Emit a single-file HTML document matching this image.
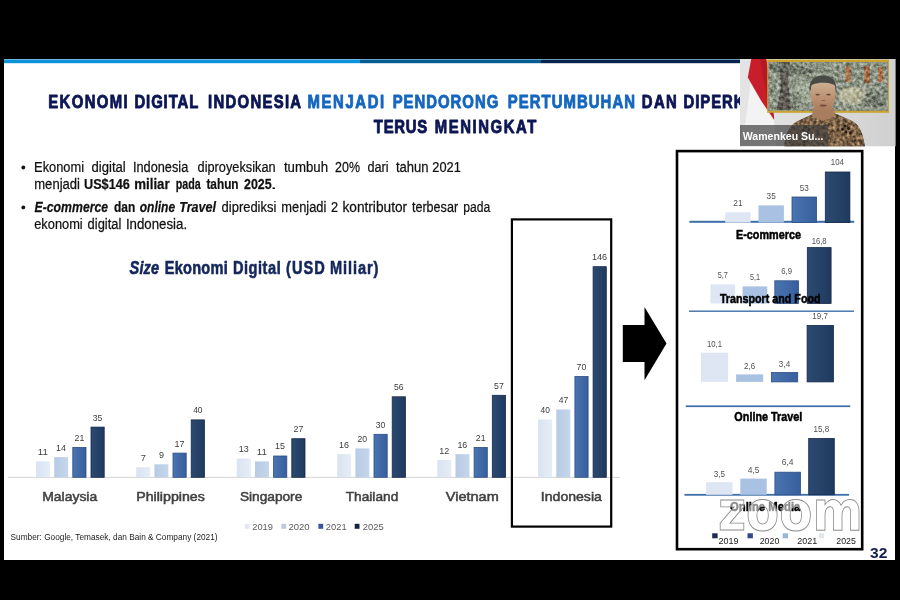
<!DOCTYPE html>
<html lang="id"><head><meta charset="utf-8"><title>Ekonomi Digital Indonesia</title>
<style>
html,body{margin:0;padding:0;background:#000;}
body{width:900px;height:600px;overflow:hidden;}
svg{display:block;font-family:"Liberation Sans",sans-serif;filter:blur(0.3px);}
</style></head><body>
<svg width="900" height="600" viewBox="0 0 900 600">
<defs>
<linearGradient id="g19" x1="0" x2="1" y1="0" y2="0"><stop offset="0" stop-color="#d9e3f1"/><stop offset="1" stop-color="#e6edf7"/></linearGradient>
<linearGradient id="g20" x1="0" x2="1" y1="0" y2="0"><stop offset="0" stop-color="#b7cbe5"/><stop offset="1" stop-color="#c6d6ea"/></linearGradient>
<linearGradient id="g21" x1="0" x2="1" y1="0" y2="0"><stop offset="0" stop-color="#4a74b2"/><stop offset="1" stop-color="#375f9b"/></linearGradient>
<linearGradient id="g25" x1="0" x2="1" y1="0" y2="0"><stop offset="0" stop-color="#2c4a72"/><stop offset="1" stop-color="#1f3a5e"/></linearGradient>
</defs>
<rect x="0" y="0" width="900" height="600" fill="#000"/>
<rect x="4" y="59" width="891" height="501" fill="#fff"/>

<rect x="4" y="59" width="356" height="4.2" fill="#0b93dc"/>
<rect x="360" y="59" width="181" height="4.2" fill="#045d92"/>
<rect x="541" y="59" width="199" height="4.2" fill="#06244c"/>
<rect x="4" y="59" width="736" height="1" fill="#8fc3d8" opacity="0.75"/>
<text transform="translate(48.29,108.10) scale(0.8000,1)" font-size="18.6" font-weight="700" letter-spacing="1.742" fill="#0c1654" stroke="#0c1654" stroke-width="0.9" stroke-linejoin="round">EKONOMI</text>
<text transform="translate(134.49,108.10) scale(0.8000,1)" font-size="18.6" font-weight="700" letter-spacing="1.123" fill="#0c1654" stroke="#0c1654" stroke-width="0.9" stroke-linejoin="round">DIGITAL</text>
<text transform="translate(208.09,108.10) scale(0.8000,1)" font-size="18.6" font-weight="700" letter-spacing="1.619" fill="#0c1654" stroke="#0c1654" stroke-width="0.9" stroke-linejoin="round">INDONESIA</text>
<text transform="translate(307.49,108.10) scale(0.8000,1)" font-size="18.6" font-weight="700" letter-spacing="2.032" fill="#1566bf" stroke="#1566bf" stroke-width="0.9" stroke-linejoin="round">MENJADI</text>
<text transform="translate(392.69,108.10) scale(0.8000,1)" font-size="18.6" font-weight="700" letter-spacing="1.266" fill="#1566bf" stroke="#1566bf" stroke-width="0.9" stroke-linejoin="round">PENDORONG</text>
<text transform="translate(507.79,108.10) scale(0.8000,1)" font-size="18.6" font-weight="700" letter-spacing="1.338" fill="#1566bf" stroke="#1566bf" stroke-width="0.9" stroke-linejoin="round">PERTUMBUHAN</text>
<text transform="translate(641.79,108.10) scale(0.8000,1)" font-size="18.6" font-weight="700" letter-spacing="1.750" fill="#0c1654" stroke="#0c1654" stroke-width="0.9" stroke-linejoin="round">DAN</text>
<text transform="translate(683.59,108.10) scale(0.8000,1)" font-size="18.6" font-weight="700" letter-spacing="1.189" fill="#0c1654" stroke="#0c1654" stroke-width="0.9" stroke-linejoin="round">DIPERKIRAKAN</text>
<text transform="translate(815.49,108.10) scale(0.8000,1)" font-size="18.6" font-weight="700" letter-spacing="1.428" fill="#0c1654" stroke="#0c1654" stroke-width="0.9" stroke-linejoin="round">AKAN</text>
<text transform="translate(373.81,133.00) scale(0.8000,1)" font-size="18.6" font-weight="700" letter-spacing="0.931" fill="#0c1654" stroke="#0c1654" stroke-width="0.9" stroke-linejoin="round">TERUS</text>
<text transform="translate(434.79,133.00) scale(0.8000,1)" font-size="18.6" font-weight="700" letter-spacing="1.971" fill="#0c1654" stroke="#0c1654" stroke-width="0.9" stroke-linejoin="round">MENINGKAT</text>
<circle cx="23.3" cy="167.5" r="1.9" fill="#111"/>
<circle cx="23.3" cy="207.4" r="1.9" fill="#111"/>
<text transform="translate(34.07,172.00) scale(0.8286,1)" font-size="15.5" fill="#111" stroke="#111" stroke-width="0.25" stroke-linejoin="round">Ekonomi</text>
<text transform="translate(91.58,172.00) scale(0.8448,1)" font-size="15.5" fill="#111" stroke="#111" stroke-width="0.25" stroke-linejoin="round">digital</text>
<text transform="translate(132.95,172.00) scale(0.8237,1)" font-size="15.5" fill="#111" stroke="#111" stroke-width="0.25" stroke-linejoin="round">Indonesia</text>
<text transform="translate(197.59,172.00) scale(0.8244,1)" font-size="15.5" fill="#111" stroke="#111" stroke-width="0.25" stroke-linejoin="round">diproyeksikan</text>
<text transform="translate(283.90,172.00) scale(0.8543,1)" font-size="15.5" fill="#111" stroke="#111" stroke-width="0.25" stroke-linejoin="round">tumbuh</text>
<text transform="translate(335.08,172.00) scale(0.8018,1)" font-size="15.5" fill="#111" stroke="#111" stroke-width="0.25" stroke-linejoin="round">20%</text>
<text transform="translate(367.39,172.00) scale(0.8189,1)" font-size="15.5" fill="#111" stroke="#111" stroke-width="0.25" stroke-linejoin="round">dari</text>
<text transform="translate(395.90,172.00) scale(0.8424,1)" font-size="15.5" fill="#111" stroke="#111" stroke-width="0.25" stroke-linejoin="round">tahun</text>
<text transform="translate(432.36,172.00) scale(0.8269,1)" font-size="15.5" fill="#111" stroke="#111" stroke-width="0.25" stroke-linejoin="round">2021</text>
<text transform="translate(34.25,189.20) scale(0.8423,1)" font-size="15.5" fill="#111" stroke="#111" stroke-width="0.25" stroke-linejoin="round">menjadi</text>
<text transform="translate(84.04,189.20) scale(0.8174,1)" font-size="15.5" font-weight="700" fill="#111" stroke="#111" stroke-width="0.25" stroke-linejoin="round">US$146</text>
<text transform="translate(134.24,189.20) scale(0.8569,1)" font-size="15.5" font-weight="700" fill="#111" stroke="#111" stroke-width="0.25" stroke-linejoin="round">miliar</text>
<text transform="translate(175.80,189.20) scale(0.6904,1)" font-size="15.5" font-weight="700" fill="#111" stroke="#111" stroke-width="0.25" stroke-linejoin="round">pada</text>
<text transform="translate(206.38,189.20) scale(0.7645,1)" font-size="15.5" font-weight="700" fill="#111" stroke="#111" stroke-width="0.25" stroke-linejoin="round">tahun</text>
<text transform="translate(244.07,189.20) scale(0.8016,1)" font-size="15.5" font-weight="700" fill="#111" stroke="#111" stroke-width="0.25" stroke-linejoin="round">2025</text>
<text transform="translate(270.33,189.20) scale(1.6299,1)" font-size="15.5" fill="#111">.</text>
<text transform="translate(34.45,212.00) scale(0.7930,1)" font-size="15.5" font-weight="700" font-style="italic" fill="#111" stroke="#111" stroke-width="0.25" stroke-linejoin="round">E-commerce</text>
<text transform="translate(114.02,212.00) scale(0.7703,1)" font-size="15.5" font-weight="700" fill="#111" stroke="#111" stroke-width="0.25" stroke-linejoin="round">dan</text>
<text transform="translate(139.74,212.00) scale(0.7769,1)" font-size="15.5" font-weight="700" font-style="italic" fill="#111" stroke="#111" stroke-width="0.25" stroke-linejoin="round">online</text>
<text transform="translate(179.22,212.00) scale(0.8123,1)" font-size="15.5" font-weight="700" font-style="italic" fill="#111" stroke="#111" stroke-width="0.25" stroke-linejoin="round">Travel</text>
<text transform="translate(221.58,212.00) scale(0.8372,1)" font-size="15.5" fill="#111" stroke="#111" stroke-width="0.25" stroke-linejoin="round">diprediksi</text>
<text transform="translate(281.26,212.00) scale(0.8309,1)" font-size="15.5" fill="#111" stroke="#111" stroke-width="0.25" stroke-linejoin="round">menjadi</text>
<text transform="translate(331.06,212.00) scale(0.8224,1)" font-size="15.5" fill="#111" stroke="#111" stroke-width="0.25" stroke-linejoin="round">2</text>
<text transform="translate(342.41,212.00) scale(0.8843,1)" font-size="15.5" fill="#111" stroke="#111" stroke-width="0.25" stroke-linejoin="round">kontributor</text>
<text transform="translate(411.91,212.00) scale(0.8129,1)" font-size="15.5" fill="#111" stroke="#111" stroke-width="0.25" stroke-linejoin="round">terbesar</text>
<text transform="translate(463.31,212.00) scale(0.7826,1)" font-size="15.5" fill="#111" stroke="#111" stroke-width="0.25" stroke-linejoin="round">pada</text>
<text transform="translate(34.19,229.40) scale(0.8286,1)" font-size="15.5" fill="#111" stroke="#111" stroke-width="0.25" stroke-linejoin="round">ekonomi</text>
<text transform="translate(87.58,229.40) scale(0.8345,1)" font-size="15.5" fill="#111" stroke="#111" stroke-width="0.25" stroke-linejoin="round">digital</text>
<text transform="translate(125.91,229.40) scale(0.8563,1)" font-size="15.5" fill="#111" stroke="#111" stroke-width="0.25" stroke-linejoin="round">Indonesia.</text>
<text transform="translate(129.62,274.00) scale(0.8000,1)" font-size="18.2" font-weight="700" font-style="italic" letter-spacing="0.118" fill="#14275c" stroke="#14275c" stroke-width="0.6" stroke-linejoin="round">Size</text>
<text transform="translate(164.69,274.00) scale(0.8000,1)" font-size="18.2" font-weight="700" letter-spacing="0.327" fill="#14275c" stroke="#14275c" stroke-width="0.6" stroke-linejoin="round">Ekonomi</text>
<text transform="translate(232.89,274.00) scale(0.8000,1)" font-size="18.2" font-weight="700" letter-spacing="0.694" fill="#14275c" stroke="#14275c" stroke-width="0.6" stroke-linejoin="round">Digital</text>
<text transform="translate(286.11,274.00) scale(0.8000,1)" font-size="18.2" font-weight="700" letter-spacing="1.252" fill="#14275c" stroke="#14275c" stroke-width="0.6" stroke-linejoin="round">(USD</text>
<text transform="translate(329.99,274.00) scale(0.8000,1)" font-size="18.2" font-weight="700" letter-spacing="1.170" fill="#14275c" stroke="#14275c" stroke-width="0.6" stroke-linejoin="round">Miliar)</text>
<rect x="8" y="476.90000000000003" width="612" height="1" fill="#d4d4d4"/>
<rect x="36.0" y="461.4" width="14.0" height="15.9" fill="url(#g19)"/>
<text transform="translate(37.82,455.21) scale(1.0348,1)" font-size="9.4" fill="#3c3c3c">11</text>
<rect x="54.2" y="457.1" width="14.0" height="20.2" fill="url(#g20)"/>
<text transform="translate(56.09,450.87) scale(0.9421,1)" font-size="9.4" fill="#3c3c3c">14</text>
<rect x="72.8" y="447.4" width="13.2" height="29.9" fill="url(#g21)" stroke="#2d4f86" stroke-width="0.8"/>
<text transform="translate(74.51,440.75) scale(0.9328,1)" font-size="9.4" fill="#3c3c3c">21</text>
<rect x="91.0" y="427.1" width="13.2" height="50.2" fill="url(#g25)" stroke="#16294a" stroke-width="0.8"/>
<text transform="translate(92.80,420.53) scale(0.9192,1)" font-size="9.4" fill="#3c3c3c">35</text>
<text transform="translate(42.18,500.50) scale(1.0915,1)" font-size="12.8" fill="#404040" stroke="#404040" stroke-width="0.5">Malaysia</text>
<rect x="136.2" y="467.2" width="14.0" height="10.1" fill="url(#g19)"/>
<text transform="translate(140.64,460.99) scale(0.9820,1)" font-size="9.4" fill="#3c3c3c">7</text>
<rect x="154.4" y="464.3" width="14.0" height="13.0" fill="url(#g20)"/>
<text transform="translate(158.89,458.10) scale(0.9609,1)" font-size="9.4" fill="#3c3c3c">9</text>
<rect x="173.0" y="453.1" width="13.2" height="24.2" fill="url(#g21)" stroke="#2d4f86" stroke-width="0.8"/>
<text transform="translate(174.47,446.54) scale(0.9612,1)" font-size="9.4" fill="#3c3c3c">17</text>
<rect x="191.2" y="419.9" width="13.2" height="57.4" fill="url(#g25)" stroke="#16294a" stroke-width="0.8"/>
<text transform="translate(193.18,413.30) scale(0.8974,1)" font-size="9.4" fill="#3c3c3c">40</text>
<text transform="translate(136.16,500.50) scale(1.1106,1)" font-size="12.8" fill="#404040" stroke="#404040" stroke-width="0.5">Philippines</text>
<rect x="236.8" y="458.5" width="14.0" height="18.8" fill="url(#g19)"/>
<text transform="translate(238.68,452.31) scale(0.9516,1)" font-size="9.4" fill="#3c3c3c">13</text>
<rect x="255.0" y="461.4" width="14.0" height="15.9" fill="url(#g20)"/>
<text transform="translate(256.82,455.21) scale(1.0348,1)" font-size="9.4" fill="#3c3c3c">11</text>
<rect x="273.6" y="456.0" width="13.2" height="21.3" fill="url(#g21)" stroke="#2d4f86" stroke-width="0.8"/>
<text transform="translate(275.08,449.43) scale(0.9516,1)" font-size="9.4" fill="#3c3c3c">15</text>
<rect x="291.8" y="438.7" width="13.2" height="38.6" fill="url(#g25)" stroke="#16294a" stroke-width="0.8"/>
<text transform="translate(293.51,432.09) scale(0.9374,1)" font-size="9.4" fill="#3c3c3c">27</text>
<text transform="translate(239.88,500.50) scale(1.0696,1)" font-size="12.8" fill="#404040" stroke="#404040" stroke-width="0.5">Singapore</text>
<rect x="337.2" y="454.2" width="14.0" height="23.1" fill="url(#g19)"/>
<text transform="translate(339.08,447.98) scale(0.9516,1)" font-size="9.4" fill="#3c3c3c">16</text>
<rect x="355.4" y="448.4" width="14.0" height="28.9" fill="url(#g20)"/>
<text transform="translate(357.52,442.20) scale(0.9237,1)" font-size="9.4" fill="#3c3c3c">20</text>
<rect x="374.0" y="434.3" width="13.2" height="43.0" fill="url(#g21)" stroke="#2d4f86" stroke-width="0.8"/>
<text transform="translate(375.81,427.75) scale(0.9148,1)" font-size="9.4" fill="#3c3c3c">30</text>
<rect x="392.2" y="396.8" width="13.2" height="80.5" fill="url(#g25)" stroke="#16294a" stroke-width="0.8"/>
<text transform="translate(394.00,390.18) scale(0.9192,1)" font-size="9.4" fill="#3c3c3c">56</text>
<text transform="translate(345.73,500.50) scale(1.0708,1)" font-size="12.8" fill="#404040" stroke="#404040" stroke-width="0.5">Thailand</text>
<rect x="437.3" y="460.0" width="14.0" height="17.3" fill="url(#g19)"/>
<text transform="translate(439.17,453.76) scale(0.9612,1)" font-size="9.4" fill="#3c3c3c">12</text>
<rect x="455.5" y="454.2" width="14.0" height="23.1" fill="url(#g20)"/>
<text transform="translate(457.38,447.98) scale(0.9516,1)" font-size="9.4" fill="#3c3c3c">16</text>
<rect x="474.1" y="447.4" width="13.2" height="29.9" fill="url(#g21)" stroke="#2d4f86" stroke-width="0.8"/>
<text transform="translate(475.81,440.75) scale(0.9328,1)" font-size="9.4" fill="#3c3c3c">21</text>
<rect x="492.3" y="395.3" width="13.2" height="82.0" fill="url(#g25)" stroke="#16294a" stroke-width="0.8"/>
<text transform="translate(494.10,388.74) scale(0.9282,1)" font-size="9.4" fill="#3c3c3c">57</text>
<text transform="translate(445.83,500.50) scale(1.1332,1)" font-size="12.8" fill="#404040" stroke="#404040" stroke-width="0.5">Vietnam</text>
<rect x="538.1" y="419.5" width="14.0" height="57.8" fill="url(#g19)"/>
<text transform="translate(540.48,413.30) scale(0.8974,1)" font-size="9.4" fill="#3c3c3c">40</text>
<rect x="556.3" y="409.4" width="14.0" height="67.9" fill="url(#g20)"/>
<text transform="translate(558.68,403.19) scale(0.9104,1)" font-size="9.4" fill="#3c3c3c">47</text>
<rect x="574.9" y="376.5" width="13.2" height="100.8" fill="url(#g21)" stroke="#2d4f86" stroke-width="0.8"/>
<text transform="translate(576.62,369.95) scale(0.9237,1)" font-size="9.4" fill="#3c3c3c">70</text>
<rect x="593.1" y="266.7" width="13.2" height="210.6" fill="url(#g25)" stroke="#16294a" stroke-width="0.8"/>
<text transform="translate(591.91,260.13) scale(0.9746,1)" font-size="9.4" fill="#3c3c3c">146</text>
<text transform="translate(540.83,500.50) scale(1.1006,1)" font-size="12.8" fill="#404040" stroke="#404040" stroke-width="0.5">Indonesia</text>
<rect x="511.9" y="219.4" width="99.3" height="307.2" fill="none" stroke="#000" stroke-width="2.2"/>
<polygon points="622.8,324.9 644.5,324.9 644.5,306.9 666.5,343.4 644.5,380.3 644.5,361.9 622.8,361.9" fill="#000"/>
<rect x="244.7" y="523.8" width="4.8" height="5" fill="#e3e8f1"/>
<text transform="translate(252.24,529.80) scale(1.0563,1)" font-size="8.8" fill="#5a5a5a">2019</text>
<rect x="281.4" y="523.8" width="4.8" height="5" fill="#bfc9da"/>
<text transform="translate(288.42,529.80) scale(1.0833,1)" font-size="8.8" fill="#5a5a5a">2020</text>
<rect x="318.4" y="523.8" width="4.8" height="5" fill="#3b539c"/>
<text transform="translate(325.83,529.80) scale(1.0617,1)" font-size="8.8" fill="#5a5a5a">2021</text>
<rect x="354.7" y="523.8" width="4.8" height="5" fill="#14243c"/>
<text transform="translate(362.73,529.80) scale(1.0752,1)" font-size="8.8" fill="#5a5a5a">2025</text>
<text transform="translate(10.53,540.10) scale(0.8545,1)" font-size="9.7" fill="#222">Sumber: Google, Temasek, dan Bain &amp; Company (2021)</text>
<text transform="translate(870.01,557.60) scale(1.1303,1)" font-size="13.8" font-weight="700" fill="#12224e">32</text>
<rect x="689.4" y="220.8" width="164.8" height="2" fill="#3d6ea9"/>
<rect x="725.2" y="212.3" width="25.4" height="10.3" fill="#dee6f4"/>
<text transform="translate(733.29,206.40) scale(1.0093,1)" font-size="8.2" fill="#505050">21</text>
<rect x="758.5" y="205.4" width="25.4" height="17.1" fill="#a9c1e2"/>
<text transform="translate(766.62,199.00) scale(1.0064,1)" font-size="8.2" fill="#505050">35</text>
<rect x="792.0" y="197.0" width="24.6" height="25.6" fill="url(#g21)" stroke="#2d4f86" stroke-width="0.8"/>
<text transform="translate(799.77,191.00) scale(0.9946,1)" font-size="8.2" fill="#505050">53</text>
<rect x="825.3" y="172.0" width="24.6" height="50.6" fill="url(#g25)" stroke="#16294a" stroke-width="0.8"/>
<text transform="translate(830.86,165.20) scale(0.9615,1)" font-size="8.2" fill="#505050">104</text>
<text transform="translate(736.00,238.50) scale(0.8596,1)" font-size="12.6" font-weight="700" fill="#000" stroke="#000" stroke-width="0.5" stroke-linejoin="round">E-commerce</text>
<rect x="710.5" y="284.4" width="24.6" height="19.1" fill="#dee6f4"/>
<text transform="translate(717.76,278.20) scale(0.8912,1)" font-size="8.2" fill="#505050">5,7</text>
<rect x="742.6" y="286.4" width="24.6" height="17.1" fill="#a9c1e2"/>
<text transform="translate(749.91,280.40) scale(0.8784,1)" font-size="8.2" fill="#505050">5,1</text>
<rect x="774.8" y="280.8" width="23.8" height="22.7" fill="url(#g21)" stroke="#2d4f86" stroke-width="0.8"/>
<text transform="translate(781.31,273.90) scale(0.9417,1)" font-size="8.2" fill="#505050">6,9</text>
<rect x="807.3" y="247.6" width="23.8" height="55.9" fill="url(#g25)" stroke="#16294a" stroke-width="0.8"/>
<text transform="translate(811.63,243.80) scale(0.9330,1)" font-size="8.2" fill="#505050">16,8</text>
<text transform="translate(719.89,302.70) scale(0.8520,1)" font-size="12.6" font-weight="700" fill="#000" stroke="#000" stroke-width="0.5" stroke-linejoin="round">Transport and Food</text>
<rect x="689" y="310.5" width="165" height="1.4" fill="#3d6ea9"/>
<rect x="701.0" y="352.7" width="27.1" height="29.2" fill="#dee6f4"/>
<text transform="translate(706.92,346.60) scale(0.9422,1)" font-size="8.2" fill="#505050">10,1</text>
<rect x="736.1" y="374.4" width="27.1" height="7.5" fill="#a9c1e2"/>
<text transform="translate(744.05,368.70) scale(0.9756,1)" font-size="8.2" fill="#505050">2,6</text>
<rect x="771.4" y="372.5" width="26.3" height="9.4" fill="url(#g21)" stroke="#2d4f86" stroke-width="0.8"/>
<text transform="translate(778.82,366.60) scale(0.9978,1)" font-size="8.2" fill="#505050">3,4</text>
<rect x="807.1" y="325.4" width="26.3" height="56.5" fill="url(#g25)" stroke="#16294a" stroke-width="0.8"/>
<text transform="translate(812.35,318.90) scale(0.9783,1)" font-size="8.2" fill="#505050">19,7</text>
<rect x="685.8" y="405.4" width="164.4" height="1.7" fill="#3d6ea9"/>
<text transform="translate(734.37,420.90) scale(0.8586,1)" font-size="12.6" font-weight="700" fill="#000" stroke="#000" stroke-width="0.5" stroke-linejoin="round">Online Travel</text>
<rect x="684.5" y="493.9" width="164.5" height="1.8" fill="#3d6ea9"/>
<rect x="706.1" y="482.2" width="26.4" height="12.6" fill="#dee6f4"/>
<text transform="translate(713.68,476.80) scale(0.9868,1)" font-size="8.2" fill="#505050">3,5</text>
<rect x="740.3" y="478.6" width="26.4" height="16.2" fill="#a9c1e2"/>
<text transform="translate(747.68,473.00) scale(1.0361,1)" font-size="8.2" fill="#505050">4,5</text>
<rect x="774.9" y="472.2" width="25.6" height="22.6" fill="url(#g21)" stroke="#2d4f86" stroke-width="0.8"/>
<text transform="translate(781.67,465.40) scale(1.0426,1)" font-size="8.2" fill="#505050">6,4</text>
<rect x="808.7" y="438.5" width="25.6" height="56.3" fill="url(#g25)" stroke="#16294a" stroke-width="0.8"/>
<text transform="translate(813.55,431.80) scale(0.9796,1)" font-size="8.2" fill="#505050">15,8</text>
<text transform="translate(729.95,511.20) scale(0.8988,1)" font-size="12.6" font-weight="700" fill="#000" stroke="#000" stroke-width="0.5" stroke-linejoin="round">Online Media</text>
<text transform="translate(717.93,530.2) scale(0.8784,1)" font-family="DejaVu Sans, sans-serif" font-size="55.0" font-weight="700" fill="#fff" fill-opacity="0.55" stroke="#8c8c8c" stroke-width="0.9">zoom</text>
<rect x="712.2" y="533.3" width="5.4" height="5" fill="#1b2d48"/>
<text transform="translate(718.45,544.30) scale(0.9589,1)" font-size="9.4" fill="#1a1a1a">2019</text>
<rect x="747.5" y="533.3" width="5.4" height="5" fill="#30498e"/>
<text transform="translate(759.66,544.30) scale(0.9445,1)" font-size="9.4" fill="#1a1a1a">2020</text>
<rect x="782.7" y="533.3" width="5.4" height="5" fill="#9db3d8"/>
<text transform="translate(797.25,544.30) scale(0.9589,1)" font-size="9.4" fill="#1a1a1a">2021</text>
<rect x="818.7" y="533.3" width="5.4" height="5" fill="#e1e6f0"/>
<text transform="translate(836.26,544.30) scale(0.9418,1)" font-size="9.4" fill="#1a1a1a">2025</text>
<rect x="677" y="151.1" width="185.2" height="398.1" fill="none" stroke="#000" stroke-width="2.6"/>
<defs>
<clipPath id="camclip"><rect x="740" y="59" width="155.6" height="87.3"/></clipPath>
<clipPath id="paintclip"><rect x="768.4" y="62" width="119.4" height="48.6"/></clipPath>
<linearGradient id="wall" x1="0" x2="1" y1="0" y2="0"><stop offset="0" stop-color="#e4e4e4"/><stop offset="0.5" stop-color="#dcdcdc"/><stop offset="1" stop-color="#d0d0d0"/></linearGradient>
<linearGradient id="faceg" x1="0" x2="0" y1="0" y2="1"><stop offset="0" stop-color="#cdae92"/><stop offset="0.45" stop-color="#bd9374"/><stop offset="1" stop-color="#a57a5b"/></linearGradient>
<filter id="mottle" x="0" y="0" width="100%" height="100%" color-interpolation-filters="sRGB">
<feTurbulence type="fractalNoise" baseFrequency="0.3" numOctaves="3" seed="7" result="n"/>
<feColorMatrix in="n" type="matrix" values="0.8 0 0 0 0.1  0.8 0 0 0 0.1  0.8 0 0 0 0.1  0 0 0 0 1" result="g"/>
<feBlend in="g" in2="SourceGraphic" mode="overlay"/>
</filter>
<filter id="batik" x="0" y="0" width="100%" height="100%" color-interpolation-filters="sRGB">
<feTurbulence type="fractalNoise" baseFrequency="0.3" numOctaves="2" seed="3" result="n"/>
<feColorMatrix in="n" type="matrix" values="1.0 0 0 0 -0.02  1.0 0 0 0 -0.02  1.0 0 0 0 -0.02  0 0 0 0 1" result="g"/>
<feBlend in="g" in2="SourceGraphic" mode="overlay" result="o"/>
<feComposite in="o" in2="SourceGraphic" operator="in"/>
</filter>
<filter id="soft" x="-10%" y="-10%" width="120%" height="120%"><feGaussianBlur stdDeviation="0.6"/></filter>
</defs>
<g clip-path="url(#camclip)">
<rect x="740" y="59" width="156" height="88" fill="url(#wall)"/>
<!-- flag white -->
<polygon points="751.5,59 748.3,77.4 741.5,122 741,146 776,146 774,119 761,100" fill="#f3f3f3"/>
<polygon points="741,125 748,80 751,80 745,125" fill="#dadada" opacity="0.6"/>
<!-- flag red -->
<polygon points="751.2,59 766.4,59 769.8,80.3 772.8,103.7 774.2,120 761,100.6 747.8,77.6" fill="#c81e2b"/>
<polygon points="760,59 765.8,59 769.5,80.3 772.4,103.7 773.8,119.5 768,100 763,78" fill="#a81522" opacity="0.55"/>
<!-- painting -->
<rect x="767.2" y="59.6" width="121.8" height="53.2" fill="#c9a42e"/>
<rect x="768.4" y="62" width="119.4" height="48.6" fill="#8b9384"/>
<g clip-path="url(#paintclip)">
<g filter="url(#mottle)">
<rect x="768.4" y="62" width="119.4" height="48.6" fill="#8b9384"/>
<g filter="url(#soft)">
<path d="M779 62 L790 62 L788 80 L791 110 L777 110 L781 86 Z" fill="#5f5b55"/>
<path d="M768 64 L800 66 L820 72 L800 74 L775 72 Z" fill="#666c60" opacity="0.8"/>
<ellipse cx="804" cy="92" rx="11" ry="11" fill="#a3ae98" opacity="0.8"/>
<ellipse cx="853" cy="96" rx="15" ry="9" fill="#b5b39a" opacity="0.85"/>
<ellipse cx="850" cy="93" rx="10" ry="6" fill="#c0bca0" opacity="0.5"/>
<rect x="845.5" y="66" width="5" height="16" fill="#a8704a"/>
<rect x="864" y="66" width="6" height="17" fill="#9c6a48"/>
<rect x="878" y="67" width="5" height="15" fill="#a8704a"/>
<ellipse cx="874" cy="100" rx="12" ry="8" fill="#6b7266" opacity="0.7"/>
<ellipse cx="795" cy="100" rx="6" ry="9" fill="#6b7266" opacity="0.5"/>
</g>
</g>
</g>
<rect x="767.2" y="59.6" width="121.8" height="53.2" fill="none" stroke="#cda730" stroke-width="0"/>
<!-- person -->
<g filter="url(#soft)">
<path d="M784 147 C786 132 790 124 800 120 L813 114 L823 118 L834 113 L850 120 C860 124 863 134 865 147 Z" fill="#7a6244"/>
</g>
<path d="M784 147 C786 132 790 124 800 120 L813 114 L823 118 L834 113 L850 120 C860 124 863 134 865 147 Z" fill="#80664a" filter="url(#batik)"/>
<g filter="url(#soft)">
<path d="M813 108 L834 108 L835 116 L823 121 L812 116 Z" fill="#a67d5f"/>
<path d="M809.6 92 C808.5 80 814 75.6 823 75.6 C832 75.6 837.5 80 836 93 L834 88 C832 83 828 82.4 823 82.4 C817 82.4 813.5 83 811.6 88 Z" fill="#4a4844"/>
<path d="M811.2 86 C812 82 834 82 835 86 C836.5 96 835 104 830.5 109.5 C827 113.6 819 113.6 815.5 109.5 C811.5 104 810 96 811.2 86 Z" fill="url(#faceg)"/>
<ellipse cx="817.6" cy="94.6" rx="2.3" ry="0.9" fill="#4a3628" opacity="0.8"/>
<ellipse cx="828.6" cy="94.6" rx="2.3" ry="0.9" fill="#4a3628" opacity="0.8"/>
<ellipse cx="823.2" cy="105.6" rx="3.6" ry="1.1" fill="#6a3d33" opacity="0.8"/>
<path d="M821.5 100.5 L825 100.5" stroke="#8d6246" stroke-width="0.9"/>
<circle cx="806" cy="127" r="1.4" fill="#241a12"/><circle cx="809" cy="129.5" r="1.4" fill="#241a12"/><circle cx="803" cy="130" r="1.4" fill="#241a12"/><circle cx="806.5" cy="132.5" r="1.4" fill="#241a12"/>
<circle cx="845" cy="126" r="1.4" fill="#241a12"/><circle cx="848.5" cy="128.5" r="1.4" fill="#241a12"/><circle cx="842.5" cy="129.5" r="1.4" fill="#241a12"/><circle cx="846" cy="132" r="1.4" fill="#241a12"/><circle cx="850.5" cy="133" r="1.4" fill="#241a12"/>
</g>
<!-- name label -->
<rect x="740" y="125" width="88.2" height="21.4" fill="#3e3e3e" opacity="0.7"/>
</g>

<text transform="translate(742.80,139.80) scale(0.9614,1)" font-size="11" font-weight="700" fill="#fff">Wamenkeu Su...</text>
</svg></body></html>
